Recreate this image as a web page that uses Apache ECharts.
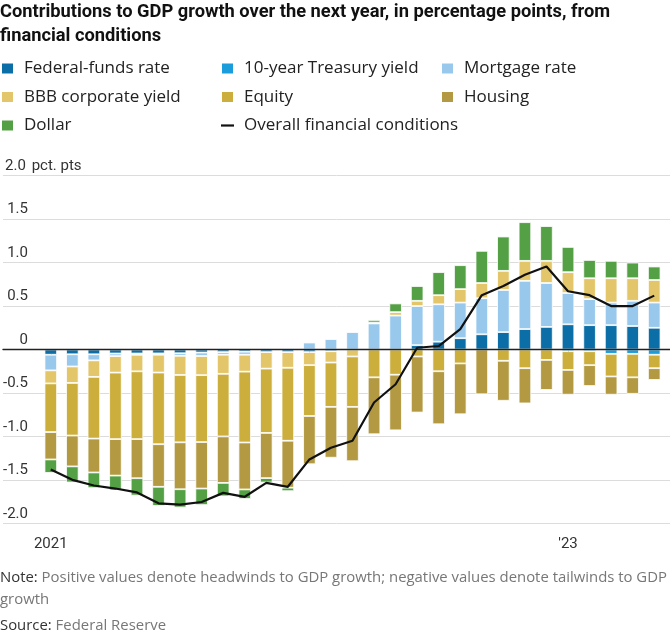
<!DOCTYPE html>
<html>
<head>
<meta charset="utf-8">
<script src="https://cdn.jsdelivr.net/npm/echarts@6/dist/echarts.min.js"></script>
<style>
html,body{margin:0;padding:0;background:#fff;}
#chart{width:670px;height:638px;}
</style>
</head>
<body>
<div id="chart"></div>
<script>
const categories = ['2021-01','2021-02','2021-03','2021-04','2021-05','2021-06','2021-07','2021-08','2021-09','2021-10','2021-11','2021-12',
  '2022-01','2022-02','2022-03','2022-04','2022-05','2022-06','2022-07','2022-08','2022-09','2022-10','2022-11','2022-12',
  '2023-01','2023-02','2023-03','2023-04','2023-05'];
const xTickLabels = {'2021-01':'2021','2022-01':'','2023-01':"'23"};
const yTickValues = [-2, -1.5, -1, -0.5, 0, 0.5, 1, 1.5, 2];

const fedFunds = [-0.06,-0.055,-0.055,-0.046,-0.046,-0.045,-0.043,-0.035,-0.03,-0.025,-0.03,-0.03,-0.03,-0.02,0,0,0,0.05,0.09,0.13,0.175,0.20,0.235,0.26,0.29,0.28,0.28,0.27,0.25];
const tenYear = [0,0,0,0,0,0,0,0,0,0,0,0,0,0,0,0,0,0,0,0,0,0,0,0,-0.02,-0.02,-0.05,-0.05,-0.06];
const mortgage = [-0.18,-0.14,-0.07,-0.03,-0.015,-0.015,-0.03,-0.04,-0.03,-0.035,0,0,0.08,0.12,0.20,0.30,0.39,0.45,0.43,0.41,0.415,0.485,0.555,0.505,0.36,0.30,0.26,0.29,0.29];
const bbb = [-0.15,-0.19,-0.19,-0.19,-0.19,-0.205,-0.22,-0.22,-0.22,-0.195,-0.19,-0.18,-0.15,-0.13,-0.08,0.01,0.04,0.06,0.105,0.155,0.175,0.22,0.23,0.255,0.24,0.24,0.28,0.26,0.26];
const equity = [-0.56,-0.605,-0.71,-0.765,-0.78,-0.825,-0.775,-0.77,-0.72,-0.815,-0.74,-0.84,-0.585,-0.51,-0.58,-0.32,-0.29,-0.08,-0.25,-0.16,0,-0.13,-0.215,-0.12,-0.215,-0.16,-0.26,-0.27,-0.155];
const housing = [-0.315,-0.355,-0.39,-0.42,-0.45,-0.49,-0.54,-0.535,-0.535,-0.54,-0.52,-0.54,-0.555,-0.585,-0.625,-0.655,-0.64,-0.645,-0.61,-0.585,-0.515,-0.46,-0.405,-0.345,-0.285,-0.24,-0.21,-0.19,-0.135];
const dollar = [-0.155,-0.185,-0.18,-0.17,-0.20,-0.22,-0.21,-0.19,-0.155,-0.11,-0.05,-0.04,0,0,0,0.03,0.10,0.17,0.265,0.275,0.37,0.395,0.445,0.40,0.29,0.21,0.20,0.18,0.155];
const overall = [-1.38,-1.50,-1.565,-1.60,-1.645,-1.77,-1.785,-1.755,-1.65,-1.695,-1.535,-1.58,-1.265,-1.13,-1.05,-0.61,-0.40,0.02,0.04,0.235,0.625,0.73,0.86,0.955,0.67,0.625,0.50,0.50,0.62];

const barSeries = [
  {name:'Federal-funds rate', data:fedFunds, color:'#0c6ea6'},
  {name:'10-year Treasury yield', data:tenYear, color:'#1b9ddc'},
  {name:'Mortgage rate', data:mortgage, color:'#98c8ec'},
  {name:'BBB corporate yield', data:bbb, color:'#e4c66a'},
  {name:'Equity', data:equity, color:'#cbae3c'},
  {name:'Housing', data:housing, color:'#b39a42'},
  {name:'Dollar', data:dollar, color:'#54a044'}
];

const FONT = "'Open Sans', 'Noto Sans', sans-serif";
const NARROW = "'Liberation Sans Narrow', Roboto, sans-serif";
const gridTop = 175.7, gridBottom = 114.7;

const chart = echarts.init(document.getElementById('chart'), null, {renderer:'canvas'});

const legendCommon = {
  orient:'vertical', top:59.5, itemGap:10.5, itemWidth:13, itemHeight:12, padding:0,
  selectedMode:false,
  textStyle:{fontFamily:FONT, fontSize:17, lineHeight:18, color:'#222', padding:[0,0,0,5]}
};
const box = (name) => ({name:name, icon:'rect'});

const option = {
  animation:false,
  backgroundColor:'#fff',
  title:[
    {text:'Contributions to GDP growth over the next year, in percentage points, from\nfinancial conditions',
     left:0, top:0, padding:0,
     textStyle:{fontFamily:'Roboto', fontWeight:'bold', fontSize:18.3, lineHeight:24.5, color:'#111'}},
    {text:'{b|Note:} Positive values denote headwinds to GDP growth; negative values denote tailwinds to GDP\ngrowth',
     left:0, top:567, padding:0,
     textStyle:{fontFamily:FONT, fontSize:14.9, fontWeight:'normal', lineHeight:22, color:'#777',
       rich:{b:{fontFamily:FONT, fontSize:14.9, color:'#333', lineHeight:22}}}},
    {text:'{b|Source:} Federal Reserve',
     left:0, top:615, padding:0,
     textStyle:{fontFamily:FONT, fontSize:14.9, fontWeight:'normal', lineHeight:22, color:'#777',
       rich:{b:{fontFamily:FONT, fontSize:14.9, color:'#333', lineHeight:22}}}}
  ],
  legend:[
    Object.assign({}, legendCommon, {left:0, data:[box('Federal-funds rate'),box('BBB corporate yield'),box('Dollar')]}),
    Object.assign({}, legendCommon, {left:220, data:[box('10-year Treasury yield'),box('Equity'),
      {name:'Overall financial conditions', icon:'path://M0,0H13V2.2H0Z', itemStyle:{color:'#111'}}]}),
    Object.assign({}, legendCommon, {left:440, data:[box('Mortgage rate'),box('Housing')]})
  ],
  grid:[
    {left:0, right:0, top:gridTop, bottom:gridBottom},
    {left:40, right:5, top:gridTop, bottom:gridBottom}
  ],
  xAxis:[
    {gridIndex:0, type:'value', min:0, max:1, z:5,
     axisLine:{show:true, onZero:true, lineStyle:{color:'#222', width:1.3}},
     axisTick:{show:false}, axisLabel:{show:false}, splitLine:{show:false}},
    {gridIndex:1, type:'category', data:categories,
     axisLine:{show:false},
     axisTick:{show:true, alignWithLabel:true, interval:(i)=> i % 12 === 0, length:5, lineStyle:{color:'#333', width:1}},
     axisLabel:{interval:(i)=> i % 12 === 0, margin:13, fontFamily:NARROW, fontSize:15, color:'#333',
       formatter:(v)=> xTickLabels[v] !== undefined ? xTickLabels[v] : ''},
     splitLine:{show:false}}
  ],
  yAxis:[
    {gridIndex:0, type:'value', min:yTickValues[0], max:yTickValues[yTickValues.length-1], interval:0.5,
     axisLine:{show:false}, axisTick:{show:false},
     splitLine:{lineStyle:{color:'#dcdcdc', width:1}},
     axisLabel:{inside:true, margin:0, align:'left', verticalAlign:'bottom', padding:[0,0,2,0],
       fontFamily:NARROW, fontSize:15, color:'#333',
       formatter:(v)=>{
         const s = v === 0 ? '0' : v.toFixed(1);
         return v === 2 ? '{n|' + s + '}{u| pct. pts}' : '{n|' + s + '}';
       },
       rich:{
         n:{width:25, align:'right', fontFamily:NARROW, fontSize:15, color:'#333'},
         u:{fontFamily:NARROW, fontSize:15, color:'#333'}
       }}},
    {gridIndex:1, type:'value', min:yTickValues[0], max:yTickValues[yTickValues.length-1], interval:0.5, show:false,
     splitLine:{show:false}}
  ],
  series: barSeries.map(s => ({
    name:s.name, type:'bar', stack:'total', xAxisIndex:1, yAxisIndex:1,
    barWidth:12.5,
    data:s.data.map(v => v === 0 ? null : v),
    itemStyle:{color:s.color, borderColor:'#fff', borderWidth:0.8},
    emphasis:{disabled:true}
  })).concat([{
    name:'Overall financial conditions', type:'line', xAxisIndex:1, yAxisIndex:1,
    data:overall, symbol:'none', z:6,
    lineStyle:{color:'#111', width:2.2}, itemStyle:{color:'#111'}
  }])
};
chart.setOption(option);
</script>
</body>
</html>
